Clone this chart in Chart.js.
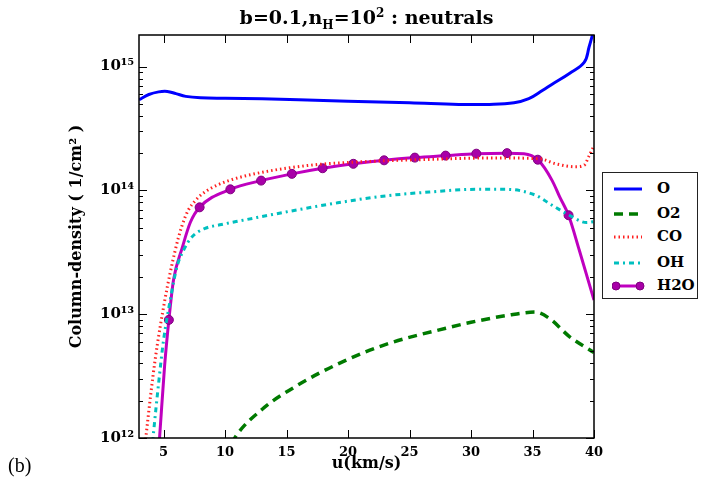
<html>
<head>
<meta charset="utf-8" />
<title>b=0.1, nH=10^2 : neutrals</title>
<script src="https://cdn.jsdelivr.net/npm/chart.js@4.4.1/dist/chart.umd.min.js"></script>
<style>
  body { margin: 0; background: #fff; }
  #wrap { position: relative; width: 718px; height: 492px; }
  .serif { font-family: "DejaVu Serif", serif; font-weight: bold; color: #000; }
  #titulo { position: absolute; left: 139px; width: 455px; top: 6px; text-align: center; font-size: 19px; }
  #titulo sub { font-size: 12px; }
  #titulo sup { font-size: 12px; }
  #letra { position: absolute; left: 8px; top: 454px; font-family: "Liberation Serif", serif; font-size: 20px; }
  #legenda { position: absolute; left: 602px; top: 172px; width: 94px; height: 125px; border: 1px solid #222; background: #fff; }
  .item { position: absolute; left: 0; height: 20px; width: 94px; }
  .item svg { position: absolute; left: 9px; top: 4px; }
  .item span { position: absolute; left: 54px; top: 0px; font-size: 15px; }
</style>
</head>
<body>
<div id="wrap">
  <canvas id="grafico" width="718" height="492"></canvas>
  <div id="titulo" class="serif">b=0.1,n<sub>H</sub>=10<sup>2</sup> : neutrals</div>
  <div id="letra">(b)</div>
  <div id="legenda" class="serif"></div>
</div>
<script>
// dados (u em km/s, densidade de coluna em 1/cm2)
const oU = [3, 3.8, 4.6, 5.3, 6.0, 6.8, 8, 10, 13, 16, 20, 25, 29, 31.5, 33.5, 34.7, 35.8, 36.6, 38, 39.2, 39.6, 40];
const oN = [5.4e14, 5.95e14, 6.25e14, 6.3e14, 6.05e14, 5.75e14, 5.6e14, 5.55e14, 5.5e14, 5.4e14, 5.25e14, 5.1e14, 4.95e14, 4.95e14, 5.1e14, 5.5e14, 6.4e14, 7.2e14, 8.8e14, 1.08e15, 1.44e15, 2.0e15];

const o2U = [10, 10.84, 13, 15.7, 19.5, 23.3, 27.95, 30, 33, 35.2, 36.4, 38, 40];
const o2N = [7e11, 1.02e12, 1.7e12, 2.6e12, 4.1e12, 5.8e12, 7.7e12, 8.6e12, 9.8e12, 1.04e13, 9.2e12, 6.6e12, 4.9e12];

const coU = [3.4, 3.6, 4.3, 5.1, 5.95, 6.5, 7.0, 7.6, 8.1, 9.0, 10.3, 13, 17, 21, 26.6, 32, 35.6, 36.9, 38.5, 39.2, 39.6, 40];
const coN = [7e11, 1.1e12, 4.2e12, 1.3e13, 3.3e13, 5.2e13, 6.9e13, 8.3e13, 9.3e13, 1.06e14, 1.2e14, 1.4e14, 1.6e14, 1.7e14, 1.78e14, 1.83e14, 1.8e14, 1.64e14, 1.55e14, 1.6e14, 1.9e14, 2.3e14];

const ohU = [4.0, 4.2, 4.6, 5.0, 5.54, 6.08, 6.63, 7.3, 8.3, 9.7, 10.9, 13.55, 16, 18.7, 22.5, 26.6, 30.4, 32.9, 35.3, 36.4, 38, 39.4, 40];
const ohN = [7e11, 1.15e12, 2.8e12, 6.2e12, 1.3e13, 2.4e13, 3.3e13, 4.2e13, 4.9e13, 5.3e13, 5.6e13, 6.3e13, 7.0e13, 7.8e13, 8.9e13, 9.7e13, 1.02e14, 1.02e14, 9.1e13, 7.8e13, 6.3e13, 5.5e13, 5.6e13];

const h2oU = [4.5, 4.67, 5.08, 5.43, 5.81, 6.5, 7.17, 7.93, 10.43, 12.93, 15.43, 17.93, 20.43, 22.93, 25.43, 27.93, 30.43, 32.93, 34.3, 35.43, 36.6, 37.2, 37.93, 38.8, 40];
const h2oN = [6e11, 1.0e12, 3.8e12, 9e12, 1.9e13, 3.4e13, 5.5e13, 7.3e13, 1.02e14, 1.2e14, 1.36e14, 1.51e14, 1.64e14, 1.75e14, 1.84e14, 1.91e14, 1.98e14, 2.0e14, 1.98e14, 1.77e14, 1.2e14, 8.9e13, 6.3e13, 3.3e13, 1.3e13];

const nomes = ['O', 'O2', 'CO', 'OH', 'H2O'];
const xTicks = [5, 10, 15, 20, 25, 30, 35, 40];
const sup = {'1': '¹', '2': '²', '3': '³', '4': '⁴', '5': '⁵'};

function pares(us, ns) {
    return us.map((u, i) => ({x: u, y: ns[i]}));
}

// marcador a cada 2.5 km/s a partir de 5.43 (como o markevery do original)
function temMarcador(u) {
    let r = (u - 5.43) / 2.5;
    return r > -0.01 && Math.abs(r - Math.round(r)) < 0.01;
}

const estilos = [
    {cor: '#0000ff', dash: [], larg: 3},
    {cor: '#007a00', dash: [9, 6], larg: 3.5},
    {cor: '#ff2020', dash: [1.5, 3], larg: 3},
    {cor: '#00bfbf', dash: [5, 4, 2, 4], larg: 3},
    {cor: '#bf00bf', dash: [], larg: 3}
];

const series = [pares(oU, oN), pares(o2U, o2N), pares(coU, coN), pares(ohU, ohN), pares(h2oU, h2oN)];

const datasets = series.map((d, i) => ({
    label: nomes[i],
    data: d,
    borderColor: estilos[i].cor,
    borderWidth: estilos[i].larg,
    borderDash: estilos[i].dash,
    cubicInterpolationMode: i == 0 ? 'default' : 'monotone',
    tension: 0.4,
    pointRadius: i == 4 ? (ctx => temMarcador(ctx.raw.x) ? 4.5 : 0) : 0,
    pointBackgroundColor: '#a800a8',
    pointBorderColor: '#800080',
    pointBorderWidth: 1,
    fill: false
}));

// moldura e tiques para dentro (estilo matplotlib)
const moldura = {
    id: 'moldura',
    afterDatasetsDraw(chart) {
        const {ctx, chartArea: a, scales} = chart;
        ctx.save();
        ctx.strokeStyle = '#000';
        ctx.lineWidth = 1;
        ctx.beginPath();
        scales.y.ticks.forEach(t => {
            let y = Math.round(scales.y.getPixelForValue(t.value)) + 0.5;
            let m = t.value / Math.pow(10, Math.floor(Math.log10(t.value) + 1e-9));
            let len = Math.abs(m - 1) < 1e-6 ? 8 : 4;
            ctx.moveTo(a.left, y); ctx.lineTo(a.left + len, y);
            ctx.moveTo(a.right, y); ctx.lineTo(a.right - len, y);
        });
        scales.x.ticks.forEach(t => {
            let x = Math.round(scales.x.getPixelForValue(t.value)) + 0.5;
            ctx.moveTo(x, a.bottom); ctx.lineTo(x, a.bottom - 8);
            ctx.moveTo(x, a.top); ctx.lineTo(x, a.top + 8);
        });
        ctx.stroke();
        ctx.lineWidth = 1.5;
        ctx.strokeRect(a.left, a.top, a.right - a.left, a.bottom - a.top);
        ctx.restore();
    }
};

const fonteSerif = '"DejaVu Serif", serif';

new Chart(document.getElementById('grafico'), {
    type: 'line',
    data: {datasets: datasets},
    options: {
        responsive: false,
        animation: false,
        layout: {padding: {left: 0, right: 124, top: 35, bottom: 0}},
        plugins: {legend: {display: false}, tooltip: {enabled: false}},
        scales: {
            x: {
                type: 'linear',
                min: 3, max: 40,
                afterBuildTicks: s => { s.ticks = xTicks.map(v => ({value: v})); },
                afterFit: s => { s.height = 54; },
                grid: {display: false, drawTicks: false},
                border: {display: false},
                ticks: {color: '#000', padding: 7, font: {family: fonteSerif, weight: 'bold', size: 13}, maxRotation: 0, autoSkip: false},
                title: {display: true, text: 'u(km/s)', color: '#000', padding: {top: 0, bottom: 19}, font: {family: fonteSerif, weight: 'bold', size: 16}}
            },
            y: {
                type: 'logarithmic',
                min: 1e12, max: 1.8e15,
                afterBuildTicks: s => {
                    s.ticks = s.ticks.filter(t => {
                        let m = t.value / Math.pow(10, Math.floor(Math.log10(t.value) + 1e-9));
                        return Math.abs(m - Math.round(m)) < 1e-6;
                    });
                },
                afterFit: s => { s.width = 139; },
                grid: {display: false, drawTicks: false},
                border: {display: false},
                ticks: {
                    color: '#000', padding: 5, autoSkip: false,
                    font: {family: fonteSerif, weight: 'bold', size: 15},
                    callback: v => {
                        let e = Math.log10(v);
                        if (Math.abs(e - Math.round(e)) > 1e-9) return '';
                        return '10' + String(Math.round(e)).split('').map(c => sup[c]).join('');
                    }
                },
                title: {display: true, text: 'Column-density ( 1/cm² )', color: '#000', padding: {top: 67, bottom: 0}, font: {family: fonteSerif, weight: 'bold', size: 16}}
            }
        }
    },
    plugins: [moldura]
});

// legenda em html, fora da area do grafico
const leg = document.getElementById('legenda');
const topos = [6, 31, 54, 80, 103];
nomes.forEach((n, i) => {
    let e = estilos[i];
    let dash = e.dash.length ? 'stroke-dasharray="' + e.dash.join(',') + '"' : '';
    let marc = i == 4 ? '<circle cx="4" cy="6" r="4" fill="#a800a8" stroke="#800080"/><circle cx="28" cy="6" r="4" fill="#a800a8" stroke="#800080"/>' : '';
    leg.innerHTML += '<div class="item" style="top:' + topos[i] + 'px"><svg width="34" height="12">' +
        '<line x1="2" y1="6" x2="30" y2="6" stroke="' + e.cor + '" stroke-width="' + e.larg + '" ' + dash + '/>' + marc +
        '</svg><span>' + n + '</span></div>';
});
</script>
</body>
</html>
